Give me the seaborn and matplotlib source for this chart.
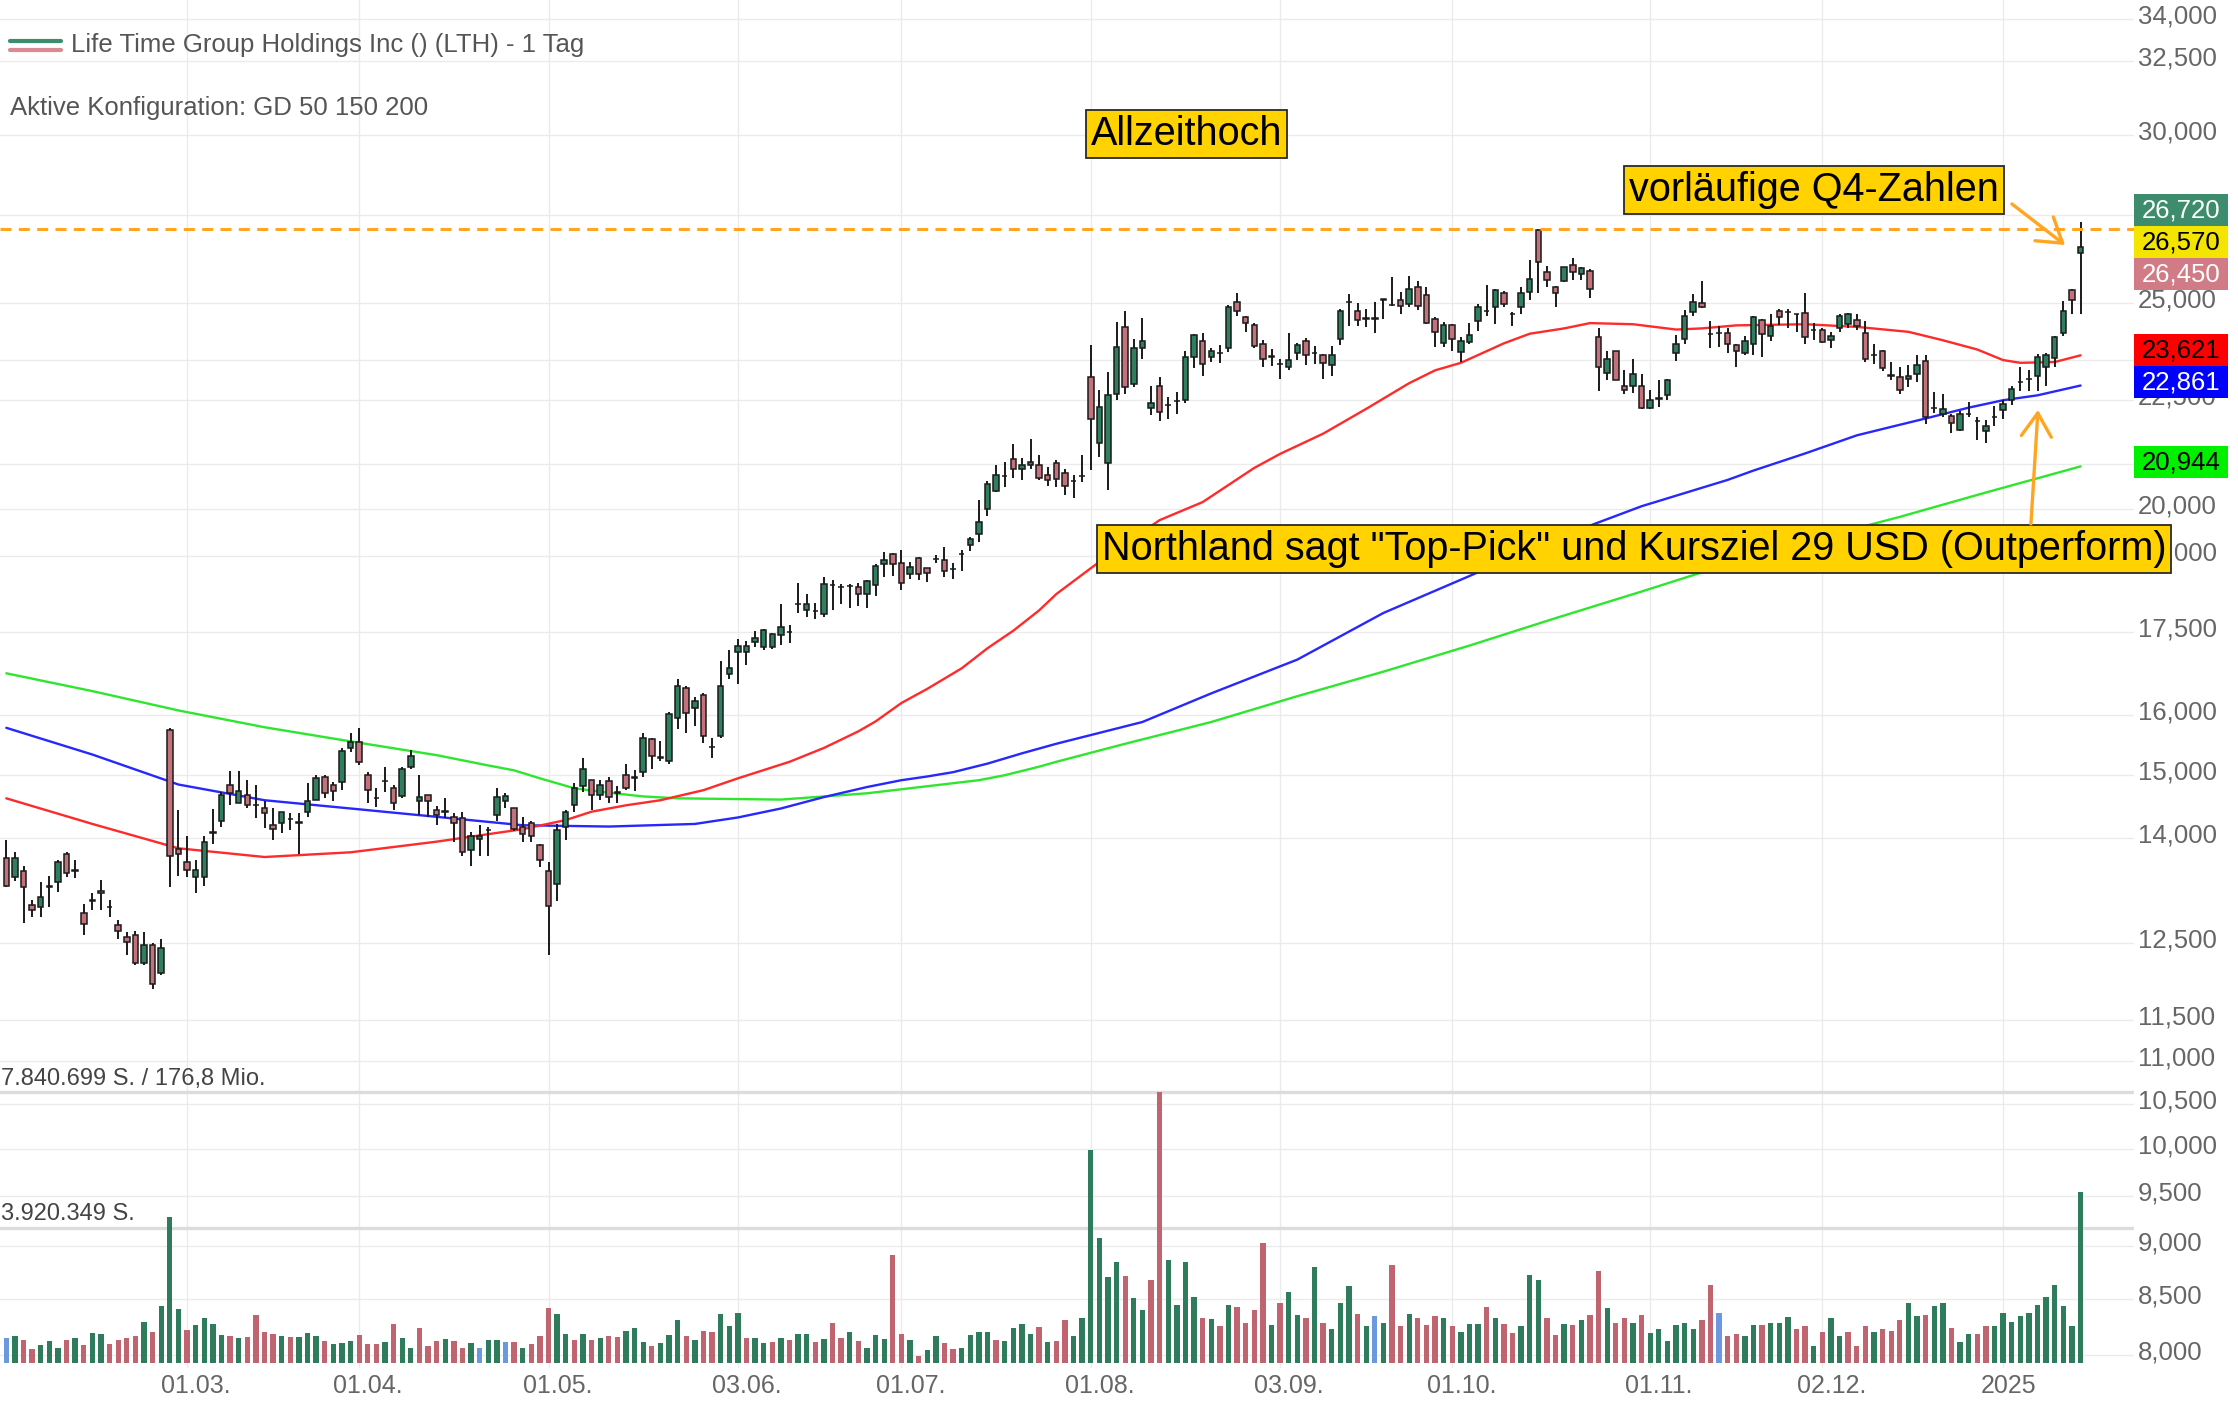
import numpy as np
import matplotlib
matplotlib.use("Agg")
import matplotlib.pyplot as plt
import seaborn as sns
from matplotlib.transforms import IdentityTransform, ScaledTranslation, blended_transform_factory
from matplotlib.patches import Rectangle
from matplotlib.lines import Line2D
from matplotlib.ticker import NullLocator, FixedLocator, FixedFormatter

# ---------------- data ----------------
title = "Life Time Group Holdings Inc () (LTH) - 1 Tag"
config_text = "Aktive Konfiguration: GD 50 150 200"

opens = [13.71,13.42,13.51,13.02,13.00,13.28,13.35,13.77,13.53,12.91,
         13.09,13.22,13.00,12.74,12.58,12.61,12.23,12.47,12.10,15.74,
         13.84,13.64,13.42,13.43,14.08,14.26,14.83,14.55,14.67,14.51,
         14.46,14.21,14.23,14.29,14.24,14.41,14.60,14.96,14.83,14.88,
         15.44,15.54,14.99,14.62,14.89,14.78,14.65,15.13,14.58,14.67,
         14.43,14.41,14.32,14.31,13.83,13.99,14.12,14.36,14.57,14.46,
         14.18,14.24,13.90,13.51,13.33,14.18,14.52,14.81,14.91,14.67,
         14.90,14.71,14.99,14.95,15.05,15.59,15.28,15.23,15.95,16.47,
         16.12,16.35,15.46,15.64,16.73,17.13,17.13,17.31,17.23,17.23,
         17.45,17.50,18.04,17.93,17.90,17.85,18.41,18.38,18.39,18.38,
         18.24,18.41,18.84,19.05,18.87,18.64,18.96,18.76,18.95,18.93,
         18.74,19.05,19.23,19.47,20.00,20.39,20.72,21.12,20.89,20.97,
         20.97,20.74,21.02,20.79,20.61,20.72,23.07,21.49,21.01,22.66,
         24.35,22.90,23.82,22.32,22.86,22.38,22.48,22.51,23.59,23.99,
         23.59,23.67,23.82,25.03,24.63,24.41,23.91,23.59,23.40,23.32,
         23.67,23.99,23.67,23.62,23.37,24.03,25.03,24.78,24.58,24.58,
         25.09,24.94,25.09,24.98,25.43,25.22,24.58,23.94,24.41,23.70,
         23.96,24.51,24.79,24.89,25.27,24.71,24.89,25.29,27.06,25.85,
         25.43,25.61,26.04,25.80,25.89,24.10,23.17,23.73,22.86,22.86,
         22.86,22.31,22.54,22.62,23.67,24.03,24.76,25.00,24.18,24.20,
         24.20,23.89,23.67,23.91,24.53,24.11,24.79,24.76,24.69,24.73,
         24.27,24.27,24.01,24.33,24.44,24.53,24.20,23.62,23.73,23.11,
         23.07,23.03,23.16,23.48,22.31,22.17,22.11,21.78,22.17,22.00,
         21.76,22.10,22.27,22.50,22.94,23.03,23.11,23.33,23.55,24.20,
         25.34,26.39]
highs = [13.98,13.79,13.59,13.09,13.35,13.44,13.67,13.79,13.67,13.04,
         13.19,13.38,13.10,12.82,12.65,12.66,12.65,12.50,12.55,15.78,
         14.44,14.03,13.67,14.03,14.45,14.72,15.06,15.06,14.91,14.83,
         14.57,14.46,14.41,14.39,14.39,14.86,14.99,14.99,14.88,15.44,
         15.70,15.78,15.05,14.78,15.13,14.83,15.13,15.40,14.99,14.67,
         14.50,14.62,14.39,14.40,14.09,14.21,14.18,14.78,14.70,14.46,
         14.33,14.26,13.91,13.64,14.22,14.44,14.86,15.28,14.92,14.92,
         14.96,14.81,15.18,15.07,15.70,15.60,15.56,16.06,16.64,16.52,
         16.31,16.38,15.61,16.97,17.16,17.37,17.34,17.52,17.57,17.48,
         18.05,17.64,18.46,18.25,18.07,18.58,18.52,18.44,18.44,18.45,
         18.51,18.84,19.09,19.07,19.14,18.89,18.98,18.76,19.03,19.20,
         18.87,19.14,19.40,20.20,20.62,20.97,21.04,21.45,21.13,21.57,
         21.21,20.93,21.08,20.89,20.74,21.21,23.89,22.76,23.19,24.50,
         24.79,24.03,24.60,22.86,23.07,22.58,22.70,23.73,24.17,24.20,
         23.82,23.89,24.94,25.27,24.66,24.46,24.01,23.78,23.52,24.20,
         23.93,24.08,23.85,23.65,23.85,24.83,25.24,25.00,24.83,25.03,
         25.11,25.72,25.29,25.74,25.61,25.43,24.61,24.50,24.44,24.10,
         24.46,24.98,25.48,25.37,25.32,24.76,25.43,26.19,27.09,26.02,
         25.46,26.00,26.24,26.00,25.93,24.33,23.73,23.73,23.24,23.52,
         23.14,22.76,22.99,23.03,24.14,24.80,25.24,25.61,24.51,24.38,
         24.33,23.91,24.11,24.64,24.58,24.69,24.83,24.83,24.71,25.26,
         24.46,24.33,24.23,24.71,24.73,24.69,24.51,23.91,23.76,23.44,
         23.33,23.37,23.62,23.62,22.70,22.66,22.17,22.24,22.46,22.10,
         22.02,22.36,22.51,22.86,23.33,23.24,23.65,23.67,24.11,25.05,
         25.37,27.28]
lows = [13.28,13.37,12.77,12.86,12.86,13.00,13.21,13.42,13.41,12.61,
        12.95,12.96,12.85,12.55,12.34,12.21,12.21,11.89,12.07,13.28,
        13.44,13.42,13.20,13.29,13.92,14.18,14.52,14.55,14.46,14.31,
        14.16,13.97,14.08,14.13,13.76,14.33,14.60,14.62,14.57,14.75,
        15.38,15.15,14.54,14.49,14.72,14.44,14.62,15.10,14.36,14.32,
        14.21,14.31,13.95,13.74,13.59,13.74,13.74,14.26,14.46,14.11,
        13.95,13.95,13.57,12.34,13.08,13.98,14.41,14.72,14.44,14.60,
        14.55,14.54,14.76,14.74,14.96,15.10,15.23,15.18,15.76,15.70,
        15.81,15.52,15.28,15.60,16.64,16.55,16.90,17.22,17.16,17.19,
        17.27,17.29,17.87,17.79,17.75,17.79,17.93,18.05,17.97,18.01,
        17.96,18.21,18.58,18.61,18.32,18.53,18.52,18.48,18.87,18.58,
        18.53,18.70,19.12,19.30,19.85,20.37,20.49,20.69,20.64,20.89,
        20.64,20.51,20.49,20.30,20.25,20.59,20.87,21.16,20.41,22.51,
        22.66,22.82,23.52,22.14,22.00,22.04,22.16,22.43,23.29,23.11,
        23.44,23.42,23.70,24.64,24.23,23.80,23.32,23.35,23.03,23.24,
        23.50,23.37,23.40,23.03,23.11,23.89,24.38,24.38,24.35,24.20,
        24.58,24.92,24.69,24.89,24.80,24.44,23.83,23.83,23.73,23.44,
        23.91,24.25,24.64,24.44,24.89,24.38,24.69,25.07,25.27,25.43,
        24.89,25.56,25.64,25.63,25.14,22.73,23.00,22.99,22.66,22.67,
        22.29,22.29,22.34,22.51,23.48,23.91,24.66,24.87,23.80,23.83,
        23.67,23.33,23.62,23.62,23.58,23.99,24.41,24.33,24.23,23.91,
        24.01,23.94,23.80,24.23,24.33,24.27,23.44,23.39,23.22,22.99,
        22.66,22.82,22.94,21.93,22.19,22.10,21.72,21.77,22.10,21.56,
        21.48,21.87,22.04,22.38,22.73,22.73,22.73,22.86,23.33,24.11,
        24.71,24.71]
closes = [13.30,13.71,13.28,12.96,13.14,13.30,13.65,13.49,13.52,12.76,
          13.08,13.20,12.99,12.66,12.51,12.23,12.47,11.96,12.43,13.74,
          13.76,13.53,13.53,13.94,14.10,14.67,14.70,14.73,14.52,14.52,
          14.39,14.14,14.40,14.29,14.24,14.57,14.95,14.70,14.73,15.39,
          15.54,15.21,14.76,14.62,14.89,14.55,15.09,15.31,14.64,14.57,
          14.36,14.41,14.24,13.79,14.03,14.04,14.12,14.64,14.65,14.14,
          14.07,14.04,13.68,13.01,14.12,14.40,14.78,15.09,14.67,14.83,
          14.64,14.71,14.79,14.95,15.61,15.31,15.28,16.02,16.51,16.04,
          16.24,15.64,15.46,16.51,16.83,17.25,17.25,17.40,17.54,17.46,
          17.61,17.50,18.04,18.05,17.90,18.43,18.41,18.38,18.39,18.24,
          18.49,18.80,18.93,18.84,18.46,18.79,18.64,18.67,18.95,18.70,
          18.74,19.05,19.37,19.73,20.55,20.74,20.72,20.89,20.97,21.04,
          20.69,20.64,20.66,20.50,20.61,20.72,22.04,22.34,22.62,23.83,
          22.82,23.80,23.99,22.43,22.21,22.38,22.48,23.58,24.14,23.40,
          23.73,23.67,24.89,24.78,24.46,23.85,23.52,23.59,23.40,23.50,
          23.89,23.62,23.67,23.42,23.62,24.79,25.03,24.54,24.58,24.58,
          25.09,24.94,24.92,25.37,24.92,24.46,24.23,24.41,24.03,23.99,
          24.14,24.89,24.79,25.34,24.98,24.71,25.27,25.66,26.14,25.64,
          25.27,25.98,25.85,25.96,25.37,23.33,23.52,23.00,22.76,23.14,
          22.31,22.50,22.54,23.00,23.91,24.64,25.03,24.89,24.18,24.20,
          23.91,23.73,23.99,24.61,24.18,24.38,24.61,24.76,24.69,24.10,
          24.27,23.96,24.11,24.66,24.69,24.38,23.54,23.62,23.29,23.11,
          22.74,23.11,23.37,22.10,22.31,22.29,21.95,22.17,22.17,22.00,
          21.87,22.10,22.40,22.78,22.94,23.03,23.59,23.62,24.09,24.79,
          25.09,26.57]

# volume in million shares, and direction vs. previous close (g up, r down, b unchanged)
volume_mio = [0.72,0.79,0.67,0.40,0.53,0.65,0.43,0.67,0.72,0.53,
              0.87,0.85,0.56,0.67,0.71,0.79,1.20,0.91,1.64,4.23,
              1.56,0.96,1.11,1.30,1.14,0.82,0.79,0.72,0.75,1.39,
              0.89,0.85,0.77,0.75,0.75,0.87,0.77,0.65,0.56,0.58,
              0.63,0.82,0.56,0.56,0.60,1.14,0.72,0.43,1.01,0.50,
              0.63,0.69,0.65,0.43,0.58,0.43,0.67,0.67,0.60,0.60,
              0.43,0.56,0.79,1.59,1.42,0.85,0.67,0.85,0.67,0.72,
              0.77,0.75,0.94,1.01,0.60,0.50,0.58,0.82,1.23,0.79,
              0.67,0.94,0.89,1.42,1.08,1.44,0.72,0.72,0.58,0.60,
              0.72,0.67,0.85,0.85,0.60,0.69,1.17,0.72,0.89,0.63,
              0.43,0.82,0.69,3.13,0.85,0.67,0.21,0.38,0.79,0.58,
              0.40,0.43,0.82,0.91,0.91,0.67,0.63,1.01,1.14,0.85,
              1.04,0.60,0.63,1.23,0.79,1.30,6.16,3.61,2.48,2.93,
              2.52,1.88,1.54,2.41,7.840699,2.98,1.68,2.93,1.92,1.30,
              1.27,1.08,1.68,1.62,1.17,1.54,3.48,1.11,1.73,2.04,
              1.39,1.30,2.79,1.15,0.98,1.73,2.23,1.42,1.06,1.35,
              1.17,2.84,1.06,1.42,1.30,1.11,1.35,1.30,1.08,0.89,
              1.13,1.13,1.62,1.30,1.13,0.87,1.06,2.55,2.41,1.30,
              0.82,1.13,1.11,1.25,1.39,2.65,1.59,1.17,1.30,1.17,
              1.39,0.87,0.98,0.63,1.11,1.17,0.98,1.23,2.26,1.44,
              0.79,0.85,0.79,1.11,1.11,1.17,1.17,1.33,0.98,1.08,
              0.50,0.89,1.30,0.79,0.89,0.50,1.06,0.91,0.98,0.94,
              1.23,1.73,1.35,1.39,1.65,1.73,1.01,0.60,0.85,0.85,
              1.06,1.06,1.46,1.20,1.35,1.44,1.68,1.92,2.26,1.64,
              1.06,4.95]
volume_dir = ("bgrrgggrgr" "ggrrrrgrgg" "grggggrgrr" "rrgrgggrgg" "grrrgrggrr"
              "rgrrgbggbr" "grrrggrgrg" "rrgggrgggr" "grrgggrggr" "grggrgrrgr"
              "gggrrgrggr" "rggggrgggg" "rgrrgggggg" "rggrrggggr" "grgrrrrgrg"
              "grgrgggrgb" "grrgrrrgrg" "ggrgrrgggr" "rgrgrrgrrg" "rggggggrrb"
              "rrggrgggrr" "grggrrrgrr" "rggrggrggr" "rggggggggg" "gg")
volume_usd_text = "176,8 Mio."

# moving averages (GD 50 = red, GD 150 = blue, GD 200 = green), read at candle positions
gd50_idx = [0,10,20,30,40,50,60,65,68,72,76,81,85,91,95,99,101,104,107,111,114,117,120,122,
            128,134,139,145,148,153,158,163,166,169,174,177,181,184,189,194,197,201,209,215,221,
            225,229,232,234,238,241]
gd50_val = [14.62,14.22,13.85,13.72,13.79,13.95,14.14,14.28,14.41,14.51,14.59,14.75,14.94,15.21,
            15.44,15.72,15.89,16.21,16.46,16.83,17.20,17.53,17.92,18.24,19.02,19.76,20.15,20.91,21.23,
            21.70,22.29,22.92,23.24,23.43,23.93,24.18,24.32,24.46,24.43,24.29,24.32,24.40,24.43,
            24.36,24.23,24.01,23.77,23.50,23.43,23.45,23.621]
gd150_idx = [0,10,20,30,40,50,60,70,80,85,90,95,100,104,107,110,114,118,122,132,140,150,160,170,
             180,190,200,203,209,215,219,223,228,232,236,241]
gd150_val = [15.78,15.33,14.84,14.59,14.46,14.33,14.20,14.18,14.22,14.32,14.46,14.64,14.80,14.91,
             14.97,15.04,15.18,15.35,15.51,15.88,16.38,16.99,17.87,18.60,19.37,20.06,20.64,20.85,
             21.24,21.66,21.86,22.06,22.32,22.50,22.62,22.861]
gd200_idx = [0,10,20,30,40,50,56,59,62,66,70,74,78,90,100,113,116,120,122,130,140,150,160,170,
             180,190,200,210,220,230,241]
gd200_val = [16.74,16.42,16.08,15.79,15.55,15.32,15.15,15.07,14.94,14.78,14.71,14.65,14.62,14.60,
             14.70,14.91,14.99,15.13,15.21,15.51,15.88,16.33,16.77,17.25,17.77,18.29,18.84,19.35,
             19.83,20.36,20.944]

date_tick_idx = [21, 41, 63, 85, 104, 126, 148, 168, 191, 211, 232]
date_tick_labels = ["01.03.", "01.04.", "01.05.", "03.06.", "01.07.", "01.08.",
                    "03.09.", "01.10.", "01.11.", "02.12.", "2025"]
price_ticks = [34, 32.5, 30, 27.5, 25, 23.5, 22.5, 21, 20, 19, 17.5, 16, 15, 14, 12.5,
               11.5, 11, 10.5, 10, 9.5, 9, 8.5, 8]

last_values = [26.72, 26.57, 26.45, 23.621, 22.861, 20.944]
last_bg = ["#3d8c6d", "#f3e500", "#d07b86", "#ff0000", "#0000ff", "#00f000"]
last_fg = ["white", "black", "white", "black", "white", "black"]

notes = ["Allzeithoch", "vorläufige Q4-Zahlen",
         'Northland sagt "Top-Pick" und Kursziel 29 USD (Outperform)']

# ---------------- style ----------------
sns.set_theme(style="white")
plt.rcParams["font.family"] = ["Liberation Sans", "DejaVu Sans"]

GREEN = "#2f7e5d"
RED = "#c3717b"
VCOL = {"g": "#2e7c5c", "r": "#c0656f", "b": "#6c98df"}
ORANGE = "#ffa521"
GRID = "#ebebeb"

W, Hh = 2238, 1404
fig = plt.figure(figsize=(W / 100, Hh / 100), dpi=100)
fig.patch.set_facecolor("white")
ax_right_px = 2134
ax_top_px = 0
ax_bot_px = 1368
ax = fig.add_axes([0, (Hh - ax_bot_px) / Hh, ax_right_px / W, (ax_bot_px - ax_top_px) / Hh])
ax.set_facecolor("white")

# x: candle index; y: log price
ax.set_yscale("log")
ax.set_xlim(-0.732, 247.21)
ax.set_ylim(7.889, 34.707)

# volume pane (twin axis) -- created first, then the price axis is moved to the right
ax2 = ax.twinx()

ax.yaxis.tick_right()
ax.yaxis.set_label_position("right")
ax.yaxis.set_major_locator(FixedLocator(price_ticks))
ax.yaxis.set_major_formatter(FixedFormatter([f"{v:.3f}".replace(".", ",") for v in price_ticks]))
ax.yaxis.set_minor_locator(NullLocator())
ax.set_xticks(date_tick_idx)
ax.set_xticklabels(date_tick_labels)
ax.tick_params(axis="y", which="both", left=False, right=True, labelleft=False, labelright=True,
               length=0, pad=3, labelsize=18.5, labelcolor="#666666")
ax.tick_params(axis="x", length=0, pad=4, labelsize=18, labelcolor="#666666")
for lbl in ax.get_xticklabels():
    dx = 9 if lbl.get_text().endswith(".") else 5
    lbl.set_transform(lbl.get_transform() + ScaledTranslation(dx / 100, 0, fig.dpi_scale_trans))
for lbl in ax.get_yticklabels():
    lbl.set_transform(lbl.get_transform() + ScaledTranslation(0, 5 / 100, fig.dpi_scale_trans))
for s in ax.spines.values():
    s.set_visible(False)
ax.grid(True, color=GRID, lw=1.0, zorder=0)
ax.set_axisbelow(True)

# moving averages
sns.lineplot(x=gd200_idx, y=gd200_val, ax=ax, color="#2ee62e", linewidth=1.7, zorder=2)
sns.lineplot(x=gd150_idx, y=gd150_val, ax=ax, color="#2727ff", linewidth=1.7, zorder=2)
sns.lineplot(x=gd50_idx, y=gd50_val, ax=ax, color="#ff2b2b", linewidth=1.7, zorder=2)

# candles
idx = np.arange(len(closes))
O = np.array(opens); C = np.array(closes); Hi = np.array(highs); Lo = np.array(lows)
up = C >= O
body_lo = np.minimum(O, C)
body_h = np.maximum(np.abs(C - O), 0.004)
ax.vlines(idx, Lo, Hi, color="#1a1a1a", lw=1.4, zorder=3)
ax.bar(idx, body_h, bottom=body_lo, width=0.64, color=np.where(up, GREEN, RED),
       edgecolor="#1a1a1a", linewidth=1.1, zorder=4)

# all-time-high dashed line
ath = max(highs[:-1])
ax.axhline(ath, color=ORANGE, lw=2.2, ls=(0, (3.6, 2.4)), zorder=5)

# volume bars
vol = np.array(volume_mio) * 1e6
vmax = vol.max()
base_px, max_px = 1363, 1092
px_per_share = (base_px - max_px) / vmax
ax2.set_ylim(-(ax_bot_px - base_px) / px_per_share, (base_px - ax_top_px) / px_per_share)
ax2.set_yticks([])
ax2.tick_params(axis="y", length=0, labelright=False, labelleft=False)
for s in ax2.spines.values():
    s.set_visible(False)
ax2.grid(False)
ax2.bar(idx, vol, width=0.62, color=[VCOL[c] for c in volume_dir], linewidth=0, zorder=2)
ax2.axhline(vmax, color="#dcdcdc", lw=2.4, zorder=1)
ax2.axhline(vmax / 2, color="#dcdcdc", lw=2.4, zorder=1)
btr = blended_transform_factory(ax.transAxes, ax2.transData)
vmax_i = int(round(vmax))
half_i = int(vmax_i // 2)
ax2.text(0.0005, vmax, f"{vmax_i:,}".replace(",", ".") + " S. / " + volume_usd_text,
         transform=btr + ScaledTranslation(0, 2 / 100, fig.dpi_scale_trans),
         ha="left", va="bottom", fontsize=17, color="#444444")
ax2.text(0.0005, vmax / 2, f"{half_i:,}".replace(",", ".") + " S.",
         transform=btr + ScaledTranslation(0, 2 / 100, fig.dpi_scale_trans),
         ha="left", va="bottom", fontsize=17, color="#444444")

# header
ax.add_line(Line2D([0.0047, 0.0286], [0.9700, 0.9700], transform=ax.transAxes,
                   color="#3d8c6b", lw=3, clip_on=False))
ax.add_line(Line2D([0.0047, 0.0286], [0.9634, 0.9634], transform=ax.transAxes,
                   color="#d98a93", lw=3, clip_on=False))
ax.text(0.0333, 0.9672, title, transform=ax.transAxes, ha="left", va="center",
        fontsize=18.5, color="#555555")
ax.text(0.0047, 0.9212, config_text, transform=ax.transAxes, ha="left", va="center",
        fontsize=18.5, color="#555555")

# annotation boxes
box = dict(boxstyle="square,pad=0.12", fc="#ffd200", ec="#2a2a2a", lw=1.3)
ax.text(0.5562, 0.9020, notes[0], transform=ax.transAxes, ha="center", va="center",
        fontsize=28.5, color="black", bbox=box, zorder=10)
ax.text(0.8500, 0.8611, notes[1], transform=ax.transAxes, ha="center", va="center",
        fontsize=28.5, color="black", bbox=box, zorder=10)
ax.text(0.7657, 0.5987, notes[2], transform=ax.transAxes, ha="center", va="center",
        fontsize=28.5, color="black", bbox=box, zorder=10, clip_on=False)
arrow = dict(arrowstyle="->,head_length=0.7,head_width=0.45", color=ORANGE, lw=2.4,
             mutation_scale=24, shrinkA=0, shrinkB=0)
ax.annotate("", xy=(0.9677, 0.8209), xytext=(0.9428, 0.8509), xycoords="axes fraction",
            textcoords="axes fraction", arrowprops=arrow, zorder=10)
ax.annotate("", xy=(0.9550, 0.7003), xytext=(0.9517, 0.6170), xycoords="axes fraction",
            textcoords="axes fraction", arrowprops=arrow, zorder=10)

# right-side value labels (stacked so they do not overlap)
box_h = 32
lift = 4
disp = [ax.transData.transform((0, v))[1] for v in last_values]
order = sorted(range(len(disp)), key=lambda k: -disp[k])
groups = []
for k in order:
    groups.append([k])
    while len(groups) > 1:
        g1, g2 = groups[-2], groups[-1]
        c1 = np.mean([disp[k] for k in g1]); c2 = np.mean([disp[k] for k in g2])
        b1 = c1 - (len(g1) - 1) * box_h / 2
        t2 = c2 + (len(g2) - 1) * box_h / 2
        if b1 - t2 < box_h:
            groups[-2] = g1 + g2
            groups.pop()
        else:
            break
x0 = ax_right_px
for g in groups:
    c = np.mean([disp[k] for k in g]) + lift
    top = c + (len(g) - 1) * box_h / 2
    for j, k in enumerate(g):
        yc = top - j * box_h
        fig.add_artist(Rectangle((x0, yc - box_h / 2), 94, box_h, transform=IdentityTransform(),
                                 facecolor=last_bg[k], edgecolor="none", zorder=20))
        fig.text(x0 + 47, yc, f"{last_values[k]:.3f}".replace(".", ","), transform=IdentityTransform(),
                 ha="center", va="center", fontsize=18.5, color=last_fg[k], zorder=21)

fig.savefig("out.png", dpi=100, facecolor="white")
